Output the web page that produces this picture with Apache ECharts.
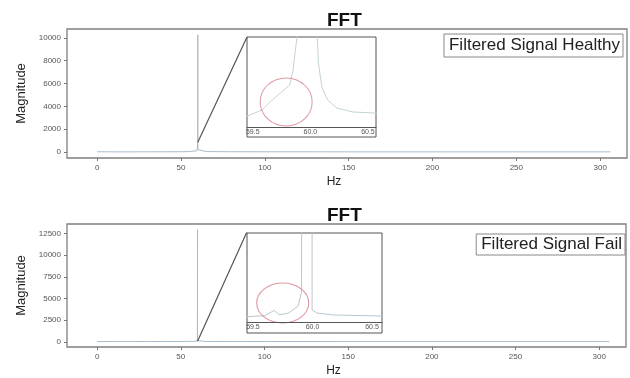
<!DOCTYPE html>
<html><head><meta charset="utf-8">
<script src="https://cdn.jsdelivr.net/npm/echarts@6/dist/echarts.min.js"></script>
<style>html,body{margin:0;padding:0;background:#fff}#c{width:630px;height:378px}</style>
</head><body><div id="c"></div>
<script>
// ---- data ----
const xTicks = [0, 50, 100, 150, 200, 250, 300];
const yTicksTop = [0, 2000, 4000, 6000, 8000, 10000];
const yTicksBottom = [0, 2500, 5000, 7500, 10000, 12500];
const insetTicks = [59.5, 60.0, 60.5];

const baseFreqLow = [0, 10, 20, 30, 40, 50, 55];
const baseFreqHigh = [65, 80, 100, 150, 200, 250, 306];
const baseMagLowHealthy = [30, 25, 25, 28, 30, 35, 50];
const baseMagHighHealthy = [50, 35, 30, 25, 25, 25, 25];
const baseMagLowFail = [30, 25, 25, 28, 30, 35, 45];
const baseMagHighFail = [45, 35, 30, 25, 25, 25, 25];

const healthyFreq = [59.45, 59.58, 59.65, 59.74, 59.82, 59.85, 59.87, 59.885, 59.9, 59.95, 60.0, 60.03, 60.05, 60.06, 60.07, 60.1, 60.15, 60.23, 60.37, 60.55, 60.6];
const healthyMag  = [120, 189, 278, 378, 467, 633, 856, 1000, 1500, 4000, 10260, 3000, 1190, 1000, 711, 444, 300, 211, 167, 156, 150];

const failFreq = [59.45, 59.6, 59.68, 59.72, 59.8, 59.88, 59.908, 59.912, 59.95, 59.993, 59.997, 60.036, 60.17, 60.58, 60.6];
const failMag  = [60, 70, 130, 80, 100, 180, 337, 3000, 4000, 12940, 135, 101, 79, 67, 65];

// annotation: zoom connector (main axes units) and red circle (inset units)
const connectorHealthy = [[60, 870], [89.36, 10073]];
const connectorFail = [[60, 60], [89.36, 12609]];
const circleHealthy = [59.79, 278];
const circleFail = [59.75, 213];

function merge(fl, ml, fd, md, fh, mh) {
  const out = [];
  fl.forEach((f, i) => out.push([f, ml[i]]));
  fd.forEach((f, i) => out.push([f, md[i]]));
  fh.forEach((f, i) => out.push([f, mh[i]]));
  return out;
}
const healthyData = merge(baseFreqLow, baseMagLowHealthy, healthyFreq, healthyMag, baseFreqHigh, baseMagHighHealthy);
const failData = merge(baseFreqLow, baseMagLowFail, failFreq, failMag, baseFreqHigh, baseMagHighFail);

const FONT = '"Liberation Sans", Arial, sans-serif';
const LINE = '#a9bccb';
const FRAME = '#7f7f7f';

function mainX(idx) {
  return {
    gridIndex: idx, type: 'value', min: -18, max: 316,
    axisLine: {show: false, onZero: false},
    axisTick: {show: true, length: 3, lineStyle: {color: '#777'}, customValues: xTicks},
    axisLabel: {fontSize: 8, color: '#555', fontFamily: FONT, margin: 6, customValues: xTicks,
      formatter: v => String(v)},
    splitLine: {show: false},
    name: 'Hz', nameLocation: 'middle', nameGap: 18,
    nameTextStyle: {fontSize: 12, color: '#222', fontFamily: FONT, padding: [0, 26, 0, 0]}
  };
}
function mainY(idx, min, max, ticks) {
  return {
    gridIndex: idx, type: 'value', min: min, max: max,
    axisLine: {show: false, onZero: false},
    axisTick: {show: true, length: 3, lineStyle: {color: '#777'}, customValues: ticks},
    axisLabel: {fontSize: 8, color: '#555', fontFamily: FONT, margin: 6, customValues: ticks,
      formatter: v => String(v)},
    splitLine: {show: false},
    name: 'Magnitude', nameLocation: 'middle', nameGap: 32, nameRotate: 90,
    nameTextStyle: {fontSize: 13, color: '#222', fontFamily: FONT}
  };
}
function insetX(idx, min, max, offset) {
  return {
    gridIndex: idx, type: 'value', min: min, max: max, offset: offset, z: 6,
    axisLine: {show: true, onZero: false, lineStyle: {color: '#555', width: 1}},
    axisTick: {show: false},
    axisLabel: {fontSize: 7, color: '#555', fontFamily: FONT, margin: 2,
      customValues: insetTicks, formatter: v => v.toFixed(1)},
    splitLine: {show: false}
  };
}
function insetY(idx, min, max) {
  return {gridIndex: idx, type: 'value', min: min, max: max, show: false, splitLine: {show: false}};
}

const option = {
  animation: false,
  backgroundColor: '#fff',
  textStyle: {fontFamily: FONT},
  title: [
    {text: 'FFT', left: 322, top: 6, textStyle: {fontSize: 19, fontWeight: 'bold', color: '#111', fontFamily: FONT}},
    {text: 'FFT', left: 322, top: 201, textStyle: {fontSize: 19, fontWeight: 'bold', color: '#111', fontFamily: FONT}}
  ],
  legend: [
    {data: ['Filtered Signal Healthy'], right: 7, top: 34, icon: 'none', itemWidth: 0, itemGap: 0,
     borderColor: '#888', borderWidth: 1, padding: [3, 3, 3, 0],
     textStyle: {fontSize: 17, color: '#222', fontFamily: FONT}},
    {data: ['Filtered Signal Fail'], right: 5, top: 234, icon: 'none', itemWidth: 0, itemGap: 0,
     borderColor: '#888', borderWidth: 1, padding: [2, 3, 2, 0],
     textStyle: {fontSize: 17, color: '#222', fontFamily: FONT}}
  ],
  grid: [
    {left: 67, right: 3, top: 29, height: 129, show: true, borderColor: FRAME, borderWidth: 1.3, backgroundColor: 'transparent'},
    {left: 247, width: 129, top: 37, height: 100, show: true, borderColor: '#555', borderWidth: 1, backgroundColor: '#fff', z: 3},
    {left: 67, right: 4, top: 224, height: 129, show: true, borderColor: FRAME, borderWidth: 1.3, backgroundColor: 'transparent'},
    {left: 247, width: 135, top: 233, height: 100, show: true, borderColor: '#555', borderWidth: 1, backgroundColor: '#fff', z: 3}
  ],
  xAxis: [
    mainX(0),
    insetX(1, 59.45, 60.57, -10),
    mainX(2),
    insetX(3, 59.45, 60.584, -11)
  ],
  yAxis: [
    mainY(0, -513, 10773, yTicksTop),
    insetY(1, -111, 1000),
    mainY(2, -600, 13600, yTicksBottom),
    insetY(3, -124, 1000)
  ],
  series: [
    {name: 'Filtered Signal Healthy', type: 'line', xAxisIndex: 0, yAxisIndex: 0, data: healthyData,
     showSymbol: false, lineStyle: {color: LINE, width: 1}, itemStyle: {color: LINE}},
    {type: 'line', xAxisIndex: 0, yAxisIndex: 0, data: connectorHealthy, showSymbol: false,
     lineStyle: {color: '#555', width: 1.2}, silent: true},
    {name: 'Filtered Signal Healthy', type: 'line', xAxisIndex: 1, yAxisIndex: 1, data: healthyData,
     showSymbol: false, clip: true, lineStyle: {color: '#c4d4d0', width: 1}, z: 4},
    {type: 'scatter', xAxisIndex: 1, yAxisIndex: 1, data: [circleHealthy], symbol: 'circle', symbolSize: [52, 48],
     itemStyle: {color: 'rgba(0,0,0,0)', borderColor: '#d9808c', borderWidth: 1}, clip: false, silent: true, z: 5},

    {name: 'Filtered Signal Fail', type: 'line', xAxisIndex: 2, yAxisIndex: 2, data: failData,
     showSymbol: false, lineStyle: {color: LINE, width: 1}, itemStyle: {color: LINE}},
    {type: 'line', xAxisIndex: 2, yAxisIndex: 2, data: connectorFail, showSymbol: false,
     lineStyle: {color: '#555', width: 1.2}, silent: true},
    {name: 'Filtered Signal Fail', type: 'line', xAxisIndex: 3, yAxisIndex: 3, data: failData,
     showSymbol: false, clip: true, lineStyle: {color: '#b8c6cf', width: 1}, z: 4},
    {type: 'scatter', xAxisIndex: 3, yAxisIndex: 3, data: [circleFail], symbol: 'circle', symbolSize: [52, 40],
     itemStyle: {color: 'rgba(0,0,0,0)', borderColor: '#d9808c', borderWidth: 1}, clip: false, silent: true, z: 5}
  ]
};
const chart = echarts.init(document.getElementById('c'), null, {renderer: 'canvas'});
chart.setOption(option);
</script>
</body></html>
